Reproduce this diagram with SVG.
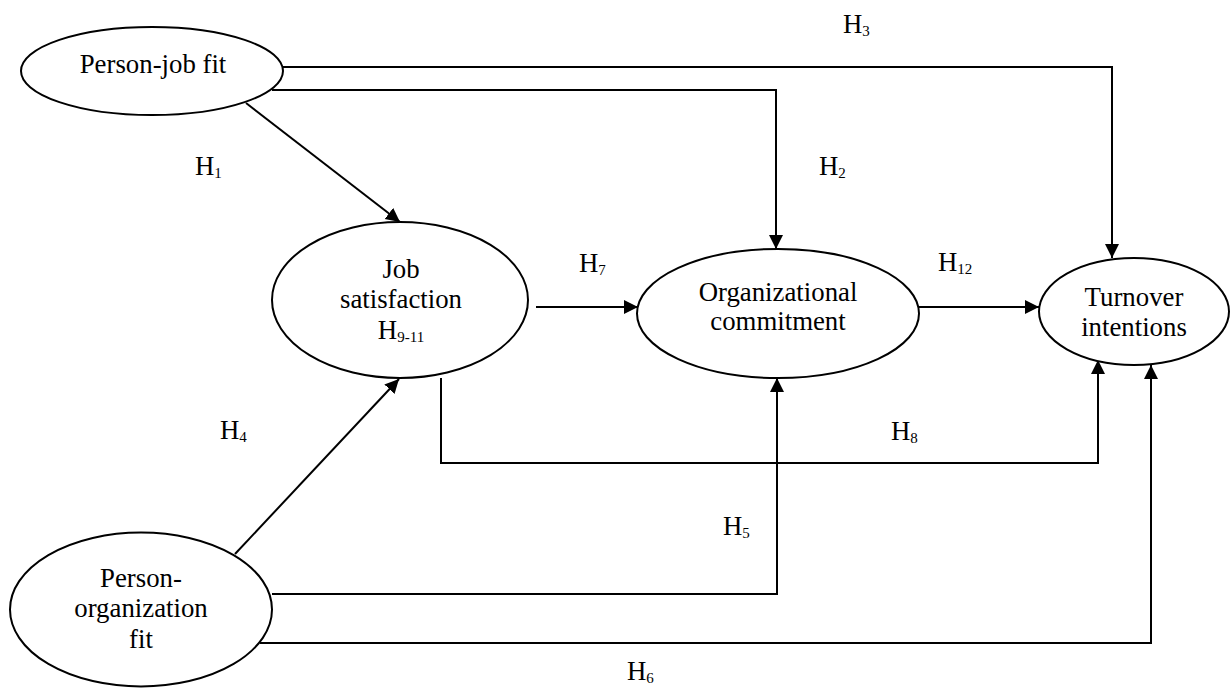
<svg xmlns="http://www.w3.org/2000/svg" width="1230" height="688" viewBox="0 0 1230 688">
<style>
.node ellipse{fill:#fff;stroke:#000;stroke-width:2}
text{font-family:"Liberation Serif","Times New Roman",serif;font-size:26.8px;fill:#000}
.c{text-anchor:middle}
.sub{font-size:15px}
#connectors path{fill:none;stroke:#000;stroke-width:2}
</style>
<defs>
<marker id="arr" markerUnits="userSpaceOnUse" markerWidth="15" markerHeight="15" refX="14" refY="7" orient="auto">
<path d="M0,0 L14,7 L0,14 z" fill="#000"/>
</marker>
</defs>
<rect width="1230" height="688" fill="#fff"/>
<g id="connectors">
<path d="M283,67 H1112 V258" marker-end="url(#arr)"/>
<path d="M272,90 H776 V249" marker-end="url(#arr)"/>
<path d="M246,103 L400,222" marker-end="url(#arr)"/>
<path d="M536,307 H638" marker-end="url(#arr)"/>
<path d="M919,307 H1039" marker-end="url(#arr)"/>
<path d="M441,378 V463 H1098 V360" marker-end="url(#arr)"/>
<path d="M235,554 L399,379" marker-end="url(#arr)"/>
<path d="M272,594 H777 V378" marker-end="url(#arr)"/>
<path d="M260,643 H1151 V365" marker-end="url(#arr)"/>
</g>
<g id="labels">
<text x="843" y="33">H<tspan class="sub" dy="3">3</tspan></text>
<text x="195" y="175">H<tspan class="sub" dy="3">1</tspan></text>
<text x="819" y="175">H<tspan class="sub" dy="3">2</tspan></text>
<text x="579" y="272">H<tspan class="sub" dy="3">7</tspan></text>
<text x="938" y="271">H<tspan class="sub" dy="3">12</tspan></text>
<text x="220" y="439">H<tspan class="sub" dy="3">4</tspan></text>
<text x="891" y="440">H<tspan class="sub" dy="3">8</tspan></text>
<text x="723" y="535">H<tspan class="sub" dy="3">5</tspan></text>
<text x="627" y="680">H<tspan class="sub" dy="3">6</tspan></text>
</g>
<g id="person-job-fit" class="node">
<ellipse cx="152" cy="71" rx="131" ry="44"/>
<text class="c" x="153" y="73">Person-job fit</text>
</g>
<g id="job-satisfaction" class="node">
<ellipse cx="400" cy="300" rx="128" ry="78"/>
<text class="c" x="401" y="278">Job</text>
<text class="c" x="401" y="308">satisfaction</text>
<text class="c" x="401" y="339">H<tspan class="sub" dy="3">9-11</tspan></text>
</g>
<g id="organizational-commitment" class="node">
<ellipse cx="778" cy="313.5" rx="141" ry="64.5"/>
<text class="c" x="778" y="301">Organizational</text>
<text class="c" x="778" y="330">commitment</text>
</g>
<g id="turnover-intentions" class="node">
<ellipse cx="1134" cy="311.5" rx="95" ry="53.5"/>
<text class="c" x="1134" y="306">Turnover</text>
<text class="c" x="1134" y="336">intentions</text>
</g>
<g id="person-organization-fit" class="node">
<ellipse cx="141" cy="609.5" rx="131" ry="77"/>
<text class="c" x="141" y="587">Person-</text>
<text class="c" x="141" y="617">organization</text>
<text class="c" x="141" y="648">fit</text>
</g>
</svg>
